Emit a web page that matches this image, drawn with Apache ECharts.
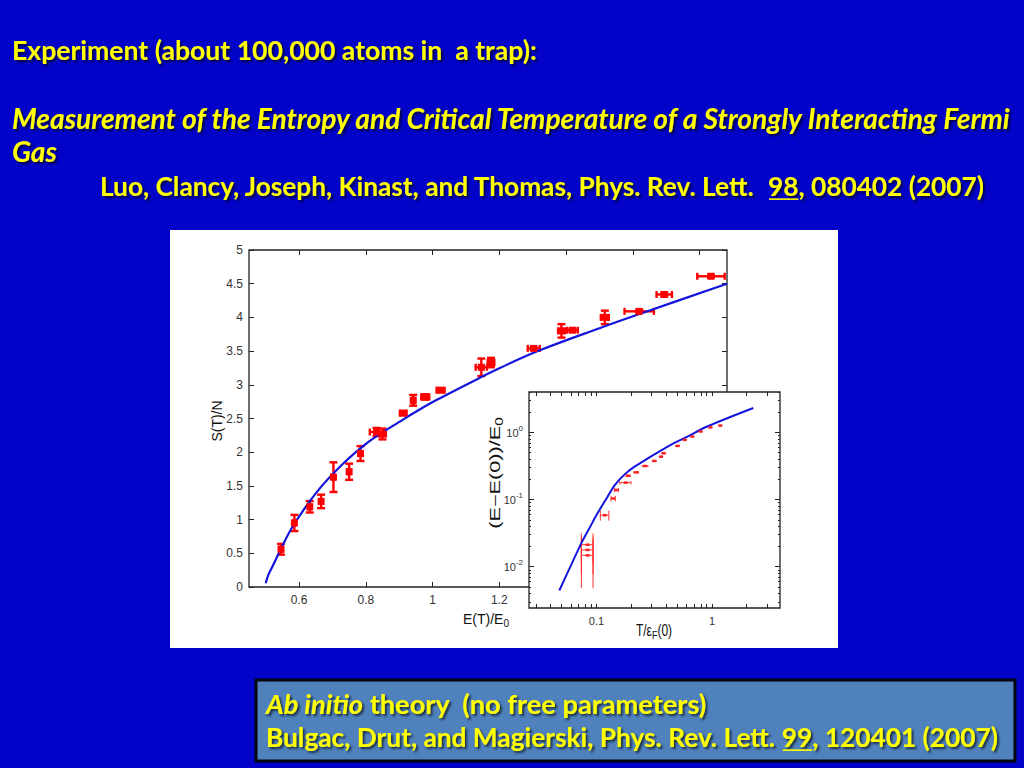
<!DOCTYPE html>
<html><head><meta charset="utf-8">
<script src="https://cdn.jsdelivr.net/npm/echarts@6/dist/echarts.min.js"></script>
<style>html,body{margin:0;padding:0;background:#0202C8;}#c{width:1024px;height:768px;}</style>
</head><body><div id="c"></div>
<script>
// ---------- slide text ----------
const headLine = 'Experiment (about 100,000 atoms in  a trap):';
const paperTitle1 = 'Measurement of the Entropy and Critical Temperature of a Strongly Interacting Fermi';
const paperTitle2 = 'Gas';
const ref1Pre = 'Luo, Clancy, Joseph, Kinast, and Thomas, Phys. Rev. Lett.  ';
const ref1Vol = '98';
const ref1Post = ', 080402 (2007)';
const boxItalic = 'Ab initio';
const boxRest = ' theory  (no free parameters)';
const ref2Pre = 'Bulgac, Drut, and Magierski, Phys. Rev. Lett. ';
const ref2Vol = '99';
const ref2Post = ', 120401 (2007)';

// ---------- main plot: S(T)/N vs E(T)/E0 ----------
const mainXTicks = [0.6, 0.8, 1.0, 1.2, 1.4, 1.6, 1.8];
const mainXLabels = [0.6, 0.8, 1.0, 1.2];
const expE = [0.546,0.586,0.632,0.666,0.703,0.750,0.784,0.832,0.850,0.912,0.942,0.978,1.024,1.146,1.175,1.303,1.386,1.419,1.516,1.619,1.694,1.834];
const expS = [0.56,0.95,1.19,1.27,1.63,1.71,1.98,2.30,2.27,2.58,2.77,2.82,2.92,3.26,3.33,3.54,3.80,3.81,4.00,4.09,4.34,4.61];
const expEErr = [0.004,0.004,0.004,0.004,0.004,0.004,0.004,0.02,0.01,0.01,0.005,0.012,0.012,0.017,0.01,0.018,0.01,0.016,0.012,0.044,0.023,0.041];
const expSErr = [0.08,0.12,0.085,0.10,0.22,0.12,0.11,0.06,0.08,0.03,0.08,0.04,0.03,0.13,0.07,0.02,0.10,0.02,0.10,0.02,0.03,0.02];
const theoryE = [0.500,0.508,0.520,0.544,0.580,0.650,0.730,0.810,0.910,0.960,1.010,1.140,1.200,1.310,1.500,1.620,1.882];
const theoryS = [0.055,0.18,0.30,0.55,0.89,1.39,1.82,2.16,2.48,2.63,2.77,3.10,3.245,3.49,3.84,4.05,4.50];

// ---------- inset: (E-E(0))/E0 vs T/eF(0), log-log ----------
const insetXTicks = [0.03,0.04,0.05,0.06,0.07,0.08,0.09,0.1,0.2,0.3,0.4,0.5,0.6,0.7,0.8,0.9,1,2,3];
const insetXLabels = [0.1, 1];
const insetYTicks = [0.01, 0.1, 1];
const insetYMinorTicks = [0.003,0.004,0.005,0.006,0.007,0.008,0.009,0.02,0.03,0.04,0.05,0.06,0.07,0.08,0.09,0.2,0.3,0.4,0.5,0.6,0.7,0.8,0.9,2,3,4];
const insetT = [0.0837,0.0837,0.0837,0.118,0.1396,0.149,0.179,0.188,0.221,0.264,0.317,0.362,0.382,0.504,0.581,0.676,0.797,0.97,1.18];
const insetE = [0.0213,0.0178,0.0148,0.0586,0.104,0.139,0.179,0.227,0.255,0.317,0.377,0.437,0.491,0.632,0.778,0.871,1.035,1.19,1.27];
const insetTErr = [0.0097,0.0097,0.0097,0.010,0.006,0.006,0.02,0.008,0.01,0.015,0.012,0.012,0.015,0.02,0.02,0.02,0.025,0.03,0.03];
const insetLineT = [0.0477,0.0574,0.0747,0.0880,0.1038,0.1223,0.144,0.1755,0.214,0.413,0.613,0.91,2.28];
const insetLineE = [0.00442,0.00881,0.0233,0.0392,0.0657,0.104,0.165,0.238,0.310,0.617,0.871,1.23,2.32];

// ---------- helpers ----------
const L = Math.log10;
const uiFont = "'Liberation Sans', Arial, sans-serif";
const yellow = '#FFFF00';
const axisCol = '#222';
const mctx = document.createElement('canvas').getContext('2d');
function tw(t, font) { mctx.font = font; return mctx.measureText(t).width; }

const textShadow = { textShadowColor: 'rgba(0,0,0,0.65)', textShadowBlur: 2, textShadowOffsetX: 2, textShadowOffsetY: 2 };
function textRow(segs, left, right, cy) {
  const base = 24;
  const fnt = (it, sz) => (it ? 'italic ' : '') + 'bold ' + sz + 'px Lato';
  let total = 0;
  segs.forEach(s => { s.w = tw(s.t, fnt(s.it, base)); total += s.w; });
  const k = (right - left) / total;
  const size = base * k;
  let x = left;
  const els = [];
  segs.forEach(s => {
    els.push({ type: 'text', x: x, y: cy, z: 20, style: Object.assign({
      text: s.t, fill: yellow, fontFamily: 'Lato', fontWeight: 'bold', fontStyle: s.it ? 'italic' : 'normal',
      fontSize: size, align: 'left', verticalAlign: 'middle' }, textShadow) });
    if (s.ul) {
      els.push({ type: 'line', z: 20, shape: { x1: x + 1, y1: cy + size * 0.5, x2: x + s.w * k, y2: cy + size * 0.5 },
        style: { stroke: yellow, lineWidth: 1.6 } });
    }
    x += s.w * k;
  });
  return { els, size };
}

const row1 = textRow([{ t: headLine }], 12, 537, 50);
const row2 = textRow([{ t: paperTitle1, it: true }], 12, 1013, 118);
const row4 = textRow([{ t: ref1Pre }, { t: ref1Vol, ul: true }, { t: ref1Post }], 100, 984, 186);
const box1 = textRow([{ t: boxItalic, it: true }, { t: boxRest }], 266, 707, 703);
const box2 = textRow([{ t: ref2Pre }, { t: ref2Vol, ul: true }, { t: ref2Post }], 266, 998, 737);
const gasEl = { type: 'text', x: 12, y: 151, z: 20, style: Object.assign({ text: paperTitle2, fill: yellow,
  fontFamily: 'Lato', fontWeight: 'bold', fontStyle: 'italic', fontSize: row2.size, align: 'left', verticalAlign: 'middle' }, textShadow) };

// ---------- renderers ----------
function mainErr(params, api) {
  const x = api.value(0), y = api.value(1), ex = api.value(2), ey = api.value(3);
  const c = api.coord([x, y]);
  const t = api.coord([x, y + ey]), b = api.coord([x, y - ey]);
  const l = api.coord([x - ex, y]), r = api.coord([x + ex, y]);
  const cw = 4, ch = 3.5;
  const st = { stroke: '#ff0000', lineWidth: 2.4 };
  const ln = (x1, y1, x2, y2) => ({ type: 'line', shape: { x1, y1, x2, y2 }, style: st });
  return { type: 'group', children: [
    ln(c[0], t[1], c[0], b[1]), ln(c[0] - cw, t[1], c[0] + cw, t[1]), ln(c[0] - cw, b[1], c[0] + cw, b[1]),
    ln(l[0], c[1], r[0], c[1]), ln(l[0], c[1] - ch, l[0], c[1] + ch), ln(r[0], c[1] - ch, r[0], c[1] + ch)
  ]};
}
function insetErr(params, api) {
  const lx = api.value(0), ly = api.value(1), lo = api.value(2), hi = api.value(3);
  const E = Math.pow(10, ly), capLin = 0.010;
  const c = api.coord([lx, ly]);
  const l = api.coord([lo, ly]), r = api.coord([hi, ly]);
  const ct = api.coord([lx, L(E + capLin)]), cb = api.coord([lx, L(Math.max(E - capLin, 1e-5))]);
  const st = { stroke: '#ff3030', lineWidth: 1 };
  const ln = (x1, y1, x2, y2) => ({ type: 'line', shape: { x1, y1, x2, y2 }, style: st });
  return { type: 'group', children: [
    ln(l[0], c[1], r[0], c[1]), ln(l[0], ct[1], l[0], cb[1]), ln(r[0], ct[1], r[0], cb[1])
  ]};
}

// ---------- data building ----------
const mainErrData = expE.map((e, i) => [e, expS[i], expEErr[i], expSErr[i]]);
const mainPts = expE.map((e, i) => [e, expS[i]]);
const theory = theoryE.map((e, i) => [e, theoryS[i]]);
const insetErrData = insetT.map((t, i) => [L(t), L(insetE[i]), L(t - insetTErr[i]), L(t + insetTErr[i])]);
const insetPts = insetT.map((t, i) => [L(t), L(insetE[i])]);
const insetLine = insetLineT.map((t, i) => [L(t), L(insetLineE[i])]);

const tickLbl = { color: '#333', fontSize: 12, fontFamily: uiFont };
const noLine = { show: false, onZero: false };
const insetXMin = -1.584, insetXMax = 0.589, insetYMin = -2.615, insetYMax = 0.604;

function insetYAxis(pos, ticks, len, labels) {
  return { gridIndex: 1, type: 'value', min: insetYMin, max: insetYMax, position: pos, z: 6,
    axisLine: noLine, splitLine: { show: false },
    axisTick: { inside: true, length: len, customValues: ticks.map(L), lineStyle: { color: axisCol } },
    axisLabel: labels ? { customValues: insetYTicks.map(L), margin: 6, fontFamily: uiFont,
      formatter: v => '{b|10}{s|' + Math.round(v) + '}',
      rich: { b: { fontSize: 11, color: '#333', fontFamily: uiFont }, s: { fontSize: 8, color: '#333', fontFamily: uiFont, padding: [0, 0, 8, 0] } } }
      : { show: false } };
}
function insetXAxis(pos, labels) {
  return { gridIndex: 1, type: 'value', min: insetXMin, max: insetXMax, position: pos, z: 6,
    axisLine: noLine, splitLine: { show: false },
    axisTick: { inside: true, length: 4, customValues: insetXTicks.map(L), lineStyle: { color: axisCol } },
    axisLabel: labels ? { customValues: insetXLabels.map(L), margin: 7, color: '#333', fontSize: 11, fontFamily: uiFont,
      formatter: v => (Math.round(v) === -1 ? '0.1' : '1') } : { show: false } };
}

const chart = echarts.init(document.getElementById('c'), null, { renderer: 'svg' });
chart.setOption({
  backgroundColor: '#0202C8',
  animation: false,
  grid: [
    { left: 249, top: 250, right: 297, bottom: 181, show: true, borderColor: axisCol, borderWidth: 1.3, backgroundColor: 'transparent', z: 1 },
    { left: 529, top: 392, right: 244, bottom: 160, show: true, borderColor: axisCol, borderWidth: 1.3, backgroundColor: '#ffffff', z: 5 }
  ],
  xAxis: [
    { gridIndex: 0, type: 'value', min: 0.45, max: 1.882, position: 'bottom', axisLine: noLine, splitLine: { show: false },
      axisTick: { inside: true, length: 5, customValues: mainXTicks, lineStyle: { color: axisCol } },
      axisLabel: Object.assign({ customValues: mainXLabels, margin: 7 }, tickLbl) },
    { gridIndex: 0, type: 'value', min: 0.45, max: 1.882, position: 'top', axisLine: noLine, splitLine: { show: false },
      axisTick: { inside: true, length: 5, customValues: mainXTicks, lineStyle: { color: axisCol } }, axisLabel: { show: false } },
    insetXAxis('bottom', true),
    insetXAxis('top', false)
  ],
  yAxis: [
    { gridIndex: 0, type: 'value', min: 0, max: 5, interval: 0.5, position: 'left', axisLine: noLine, splitLine: { show: false },
      axisTick: { inside: true, length: 5, lineStyle: { color: axisCol } }, axisLabel: Object.assign({ margin: 6 }, tickLbl) },
    { gridIndex: 0, type: 'value', min: 0, max: 5, interval: 0.5, position: 'right', axisLine: noLine, splitLine: { show: false },
      axisTick: { inside: true, length: 5, lineStyle: { color: axisCol } }, axisLabel: { show: false } },
    insetYAxis('left', insetYTicks, 5, true),
    insetYAxis('right', insetYTicks, 5, false),
    insetYAxis('left', insetYMinorTicks, 2, false),
    insetYAxis('right', insetYMinorTicks, 2, false)
  ],
  series: [
    { type: 'line', xAxisIndex: 0, yAxisIndex: 0, data: theory, smooth: 0.35, showSymbol: false, z: 3,
      lineStyle: { color: '#1414DC', width: 2.2 } },
    { type: 'custom', xAxisIndex: 0, yAxisIndex: 0, data: mainErrData, renderItem: mainErr, encode: { x: 0, y: 1 }, z: 3 },
    { type: 'scatter', xAxisIndex: 0, yAxisIndex: 0, data: mainPts, symbol: 'rect', symbolSize: 7, z: 4,
      itemStyle: { color: '#ff0000', opacity: 1 } },
    { type: 'line', xAxisIndex: 2, yAxisIndex: 2, data: insetLine, smooth: 0.3, showSymbol: false, z: 7,
      lineStyle: { color: '#1414DC', width: 2 } },
    { type: 'custom', xAxisIndex: 2, yAxisIndex: 2, data: insetErrData, renderItem: insetErr, encode: { x: 0, y: 1 }, z: 7 },
    { type: 'scatter', xAxisIndex: 2, yAxisIndex: 2, data: insetPts, symbol: 'rect', symbolSize: [4, 2.5], z: 8,
      itemStyle: { color: '#ff2020', opacity: 1 } }
  ],
  graphic: { elements: [
    { type: 'rect', z: -10, shape: { x: 170, y: 230, width: 668, height: 418 }, style: { fill: '#ffffff' } },
    { type: 'rect', z: 19, shape: { x: 256, y: 680, width: 759, height: 81 }, style: { fill: '#4F81BD', stroke: '#050510', lineWidth: 3 } },
    { type: 'text', x: 217, y: 421, rotation: Math.PI / 2, z: 10,
      style: { text: 'S(T)/N', fill: '#111', fontSize: 14, fontFamily: uiFont, align: 'center', verticalAlign: 'middle' } },
    { type: 'text', x: 486, y: 619, z: 10,
      style: { text: '{a|E(T)/E}{s|0}', align: 'center', verticalAlign: 'middle',
        rich: { a: { fontSize: 14, fill: '#111', fontFamily: uiFont }, s: { fontSize: 10, fill: '#111', fontFamily: uiFont, padding: [9, 0, 0, 0] } } } },
    { type: 'text', x: 495, y: 473, rotation: Math.PI / 2, scaleX: 1.55, z: 10,
      style: { text: '{a|(E\u2212E(0))/E}{s|0}', align: 'center', verticalAlign: 'middle',
        rich: { a: { fontSize: 14, fill: '#111', fontFamily: uiFont }, s: { fontSize: 10, fill: '#111', fontFamily: uiFont, padding: [9, 0, 0, 0] } } } },
    { type: 'text', x: 654, y: 630, scaleY: 1.3, z: 10,
      style: { text: '{a|T/\u03b5}{s|F}{a|(0)}', align: 'center', verticalAlign: 'middle',
        rich: { a: { fontSize: 12, fill: '#111', fontFamily: uiFont }, s: { fontSize: 9, fill: '#111', fontFamily: uiFont, padding: [8, 0, 0, 0] } } } },
    gasEl
  ].concat(row1.els, row2.els, row4.els, box1.els, box2.els) }
});
</script>
</body></html>
